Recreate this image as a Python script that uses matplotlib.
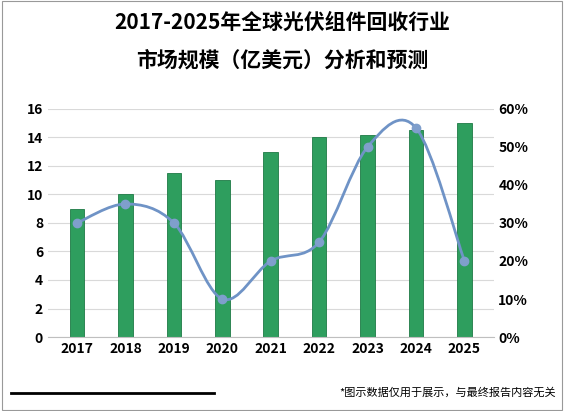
import numpy as np
import matplotlib
matplotlib.use("Agg")
import matplotlib.pyplot as plt
from matplotlib.path import Path
from matplotlib.patches import PathPatch

plt.rcParams["font.family"] = ["Noto Sans CJK SC", "DejaVu Sans"]

years = ["2017", "2018", "2019", "2020", "2021", "2022", "2023", "2024", "2025"]
market = [9, 10, 11.5, 11, 13, 14, 14.2, 14.5, 15]
growth = [0.30, 0.35, 0.30, 0.10, 0.20, 0.25, 0.50, 0.55, 0.20]

fig = plt.figure(figsize=(5.64, 4.11), dpi=100)
fig.patches.append(plt.Rectangle((0.003, 0.003), 0.994, 0.994, transform=fig.transFigure,
                                 fill=False, edgecolor="#999999", linewidth=0.8))
fig.text(0.5, 0.945, "2017-2025年全球光伏组件回收行业", ha="center", va="center",
         fontsize=15, fontweight="bold")
fig.text(0.5, 0.855, "市场规模（亿美元）分析和预测", ha="center", va="center",
         fontsize=15, fontweight="bold")

ax = fig.add_axes([0.085, 0.18, 0.79, 0.555])
x = np.arange(len(years))
ax.bar(x, market, width=0.3, color="#2E9E5E", edgecolor="#1E7A45", linewidth=0.6)
ax.set_ylim(0, 16)
ax.set_yticks(range(0, 17, 2))
ax.set_xlim(-0.6, len(years) - 0.4)
ax.set_xticks(x)
ax.set_xticklabels(years, fontweight="bold")
ax.tick_params(length=0, labelsize=10)
for lb in ax.get_yticklabels():
    lb.set_fontweight("bold")
ax.grid(axis="y", color="#d9d9d9", linewidth=0.8)
ax.set_axisbelow(True)
for s in ["top", "right", "left"]:
    ax.spines[s].set_visible(False)
ax.spines["bottom"].set_color("#bfbfbf")

ax2 = ax.twinx()
ax2.set_ylim(0, 0.6)
ax2.set_yticks(np.arange(0, 0.61, 0.1))
ax2.set_yticklabels([f"{int(round(v*100))}%" for v in np.arange(0, 0.61, 0.1)], fontweight="bold")
ax2.tick_params(length=0, labelsize=10)
for s in ax2.spines.values():
    s.set_visible(False)

# smooth curve through the points using Bezier segments
pts = np.column_stack([x, growth])
verts = [tuple(pts[0])]
codes = [Path.MOVETO]
for i in range(len(pts) - 1):
    p0 = pts[max(i - 1, 0)]
    p1 = pts[i]
    p2 = pts[i + 1]
    p3 = pts[min(i + 2, len(pts) - 1)]
    c1 = p1 + (p2 - p0) / 6
    c2 = p2 - (p3 - p1) / 6
    verts += [tuple(c1), tuple(c2), tuple(p2)]
    codes += [Path.CURVE4] * 3
ax2.add_patch(PathPatch(Path(verts, codes), fill=False, edgecolor="#6F93C6", linewidth=2))
ax2.plot(x, growth, "o", color="#7F9FCC", markersize=6)

fig.add_artist(plt.Line2D([0.02, 0.38], [0.045, 0.045], color="black", linewidth=2,
                          transform=fig.transFigure))
fig.text(0.985, 0.045, "*图示数据仅用于展示，与最终报告内容无关", ha="right", va="center", fontsize=8)

fig.savefig("out.png", dpi=100)
